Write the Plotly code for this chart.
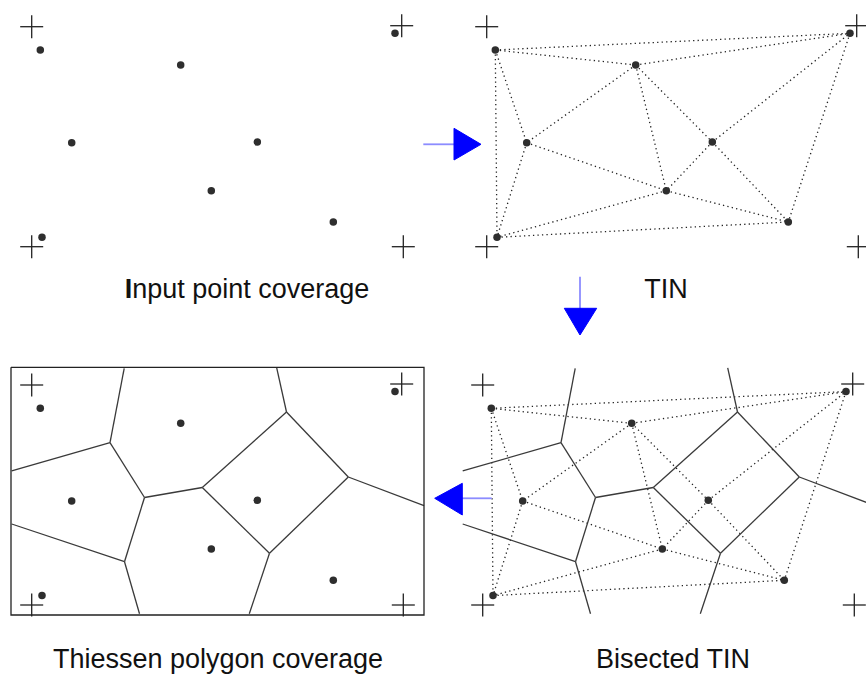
import plotly.graph_objects as go

# ---- data (pixel coords local to panel 1; panels are offset copies) ----
pt_x = [40.3, 180.7, 71.7, 257.3, 211.3, 333.3, 395.0, 42.0]
pt_y = [50.0, 65.0, 142.7, 142.0, 190.7, 222.0, 33.3, 237.3]

cross_x = [31.7, 401.7, 31.7, 403.3]
cross_y = [26.7, 25.7, 246.7, 246.7]
cross_arm = 11.5

tin_edges = [(0, 6), (0, 1), (1, 6), (0, 7), (0, 2), (1, 2), (1, 4), (1, 3),
             (2, 4), (2, 7), (3, 4), (3, 6), (3, 5), (6, 5), (4, 7), (7, 5), (4, 5)]

vor_names = ["A", "B", "C", "D", "E", "F", "G", "T1", "T2", "L1", "L2", "B1", "B2", "R1"]
vor_x = [110.0, 144.5, 202.3, 286.5, 348.3, 269.5, 124.5, 124.2, 276.7, 11.7, 11.7, 139.5, 249.3, 424.0]
vor_y = [84.4, 139.2, 129.2, 53.7, 118.7, 195.0, 203.4, 10.0, 9.5, 112.6, 165.7, 255.5, 255.5, 147.4]
vor_edges = [("T1", "A"), ("A", "L1"), ("A", "B"), ("B", "C"), ("B", "G"), ("G", "L2"),
             ("G", "B1"), ("C", "D"), ("C", "F"), ("D", "T2"), ("D", "E"), ("E", "F"),
             ("E", "R1"), ("F", "B2")]

frame_x = [11.0, 424.0]
frame_y = [9.0, 256.7]

panel_names = ["input", "tin", "thiessen", "bisected"]
panel_dx = [0.0, 455.0, 0.0, 451.0]
panel_dy = [0.0, 0.0, 358.3, 358.3]

labels = ["<b>I</b>nput point coverage", "TIN", "Thiessen polygon coverage", "Bisected TIN"]
label_x = [247.0, 666.0, 218.0, 673.0]
label_y = [291.0, 291.5, 661.5, 661.5]

shaft_x = [[423.3, 455.0], [580.0, 580.0], [491.7, 461.0]]
shaft_y = [[144.3, 144.3], [276.7, 309.0], [498.3, 498.3]]
head_x = [[454.0, 481.0, 454.0], [564.3, 596.7, 580.0], [462.3, 434.7, 462.3]]
head_y = [[128.3, 144.3, 160.0], [308.3, 308.3, 335.0], [483.3, 498.3, 515.0]]

fig = go.Figure()

def seg_trace(xs, ys, **line):
    fig.add_trace(go.Scatter(x=xs, y=ys, mode="lines", line=line, hoverinfo="skip"))

vidx = {n: i for i, n in enumerate(vor_names)}

for name, dx, dy in zip(panel_names, panel_dx, panel_dy):
    # TIN
    if name in ("tin", "bisected"):
        xs, ys = [], []
        for a, b in tin_edges:
            xs += [pt_x[a] + dx, pt_x[b] + dx, None]
            ys += [pt_y[a] + dy, pt_y[b] + dy, None]
        seg_trace(xs, ys, color="#222222", width=1.3, dash="1.3px,3.2px")
    # Voronoi
    if name in ("thiessen", "bisected"):
        xs, ys = [], []
        for a, b in vor_edges:
            xs += [vor_x[vidx[a]] + dx, vor_x[vidx[b]] + dx, None]
            ys += [vor_y[vidx[a]] + dy, vor_y[vidx[b]] + dy, None]
        seg_trace(xs, ys, color="#3a3a3a", width=1.3)
    if name == "thiessen":
        fx = [frame_x[0], frame_x[1], frame_x[1], frame_x[0], frame_x[0]]
        fy = [frame_y[0], frame_y[0], frame_y[1], frame_y[1], frame_y[0]]
        seg_trace([v + dx for v in fx], [v + dy for v in fy], color="#222222", width=1.3)
    # crosses
    xs, ys = [], []
    for cx, cy in zip(cross_x, cross_y):
        xs += [cx - cross_arm + dx, cx + cross_arm + dx, None, cx + dx, cx + dx, None]
        ys += [cy + dy, cy + dy, None, cy - cross_arm + dy, cy + cross_arm + dy, None]
    seg_trace(xs, ys, color="#222222", width=1.3)
    # points
    fig.add_trace(go.Scatter(x=[v + dx for v in pt_x], y=[v + dy for v in pt_y], mode="markers",
                             marker=dict(size=7.5, color="#2e2e2e", line=dict(width=0)),
                             hoverinfo="skip"))

# arrows
for sx, sy, hx, hy in zip(shaft_x, shaft_y, head_x, head_y):
    seg_trace(sx, sy, color="#8c8cff", width=1.8)
    fig.add_trace(go.Scatter(x=hx + [hx[0]], y=hy + [hy[0]], mode="lines", fill="toself",
                             fillcolor="#0000ff", line=dict(color="#0000ff", width=1),
                             hoverinfo="skip"))

# labels
fig.add_trace(go.Scatter(x=label_x, y=label_y, mode="text", text=labels,
                         textposition="middle center",
                         textfont=dict(family="Liberation Sans, Arial, sans-serif", size=27, color="#111111"),
                         hoverinfo="skip"))

fig.update_layout(width=866, height=679, margin=dict(l=0, r=0, t=0, b=0),
                  paper_bgcolor="white", plot_bgcolor="white", showlegend=False,
                  xaxis=dict(range=[0, 866], visible=False, fixedrange=True),
                  yaxis=dict(range=[679, 0], visible=False, fixedrange=True))

fig.write_html("out.html", config={"displayModeBar": False},
               post_script="document.body.style.margin='0';document.body.style.overflow='hidden';")
